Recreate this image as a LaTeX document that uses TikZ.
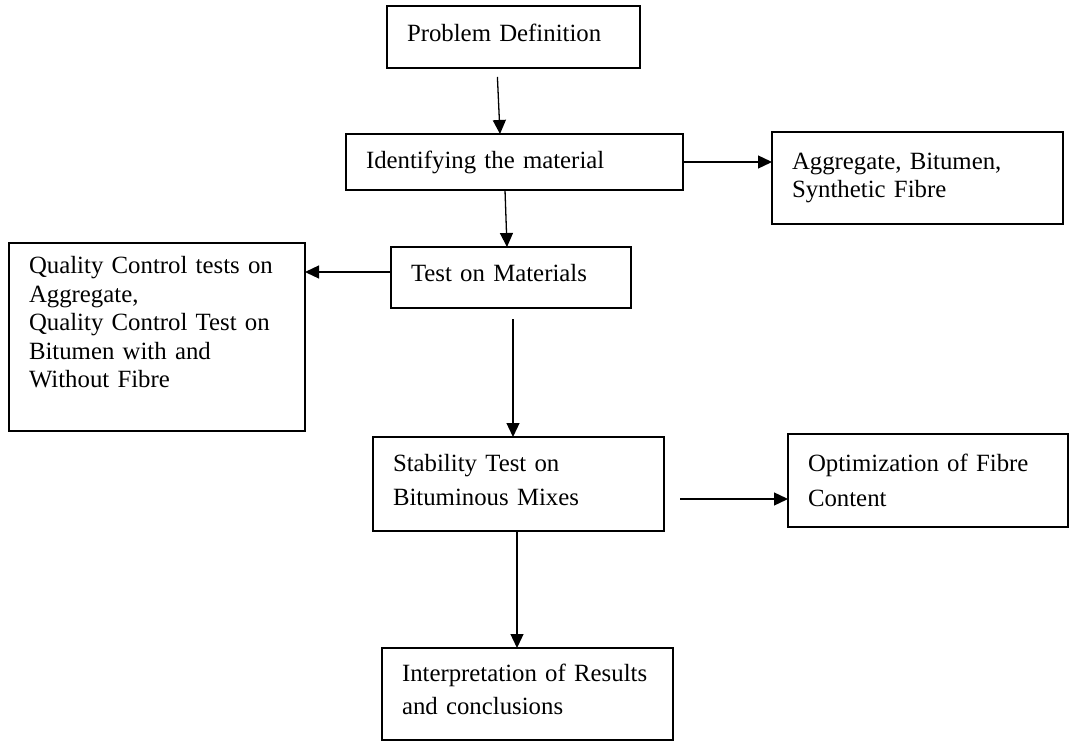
\documentclass[tikz,border=0pt]{standalone}
\usepackage{fontspec}
\setmainfont{Liberation Serif}
\usetikzlibrary{positioning, arrows.meta}

\begin{document}
\begin{tikzpicture}
    [
        box/.style={rectangle, draw, line width=1.5pt, outer sep=0pt,
                    align=left, inner xsep=20pt, inner ysep=3pt,
                    font=\fontsize{24.8}{#1}\selectfont},
        box/.default=28.5,
        flow/.style={line width=1.3pt, -{Triangle[length=14pt, width=13pt]}}
    ]
    \useasboundingbox (0pt,0pt) rectangle (1071pt,-741pt);
    \node (prob) [box, text width=213pt, minimum height=62pt, text depth=9pt] at (513.5pt,-37pt) {Problem Definition};
    \node (ident) [box, text width=297pt, minimum height=56pt, below=66pt of prob, xshift=1pt] {Identifying the material};
    \node (aggr) [box, text width=251pt, minimum height=92pt, below right=-2pt and 89pt of ident.north east] {Aggregate, Bitumen,\\Synthetic Fibre};
    \node (test) [box, text width=200pt, minimum height=61pt, text depth=9pt, below=57pt of ident, xshift=-3.5pt] {Test on Materials};
    \node (qc) [box, text width=256pt, minimum height=188pt, text depth=144pt, below left=-4pt and 86pt of test.north west] {Quality Control tests on\\Aggregate,\\Quality Control Test on\\Bitumen with and\\Without Fibre};
    \node (stab) [box=34, text width=251pt, minimum height=94pt, text depth=43pt, below=129pt of test, xshift=7.5pt] {Stability Test on\\Bituminous Mixes};
    \node (optim) [box=35, text width=240pt, minimum height=93pt, below right=-3pt and 124pt of stab.north east] {Optimization of Fibre\\Content};
    \node (interp) [box=33, text width=251pt, minimum height=92pt, text depth=43pt, below=117pt of stab, xshift=9pt] {Interpretation of Results\\and conclusions};

    \draw [flow, shorten <=9pt] ([xshift=-16.5pt]prob.south) -- ([xshift=-14.5pt]ident.north);
    \draw [flow] ([xshift=-9.5pt]ident.south) -- ([xshift=-4pt]test.north);
    \draw [flow] (ident.east) -- (ident.east -| aggr.west);
    \draw [flow] ([yshift=5.5pt]test.west) -- ([yshift=5.5pt]test.west -| qc.east);
    \draw [flow, shorten <=11pt] ([xshift=2pt]test.south) -- ([xshift=2pt]test.south |- stab.north);
    \draw [flow, shorten <=16pt] ([yshift=-15pt]stab.east) -- ([yshift=-15pt]stab.east -| optim.west);
    \draw [flow] ([xshift=-1.5pt]stab.south) -- ([xshift=-1.5pt]stab.south |- interp.north);
\end{tikzpicture}
\end{document}
